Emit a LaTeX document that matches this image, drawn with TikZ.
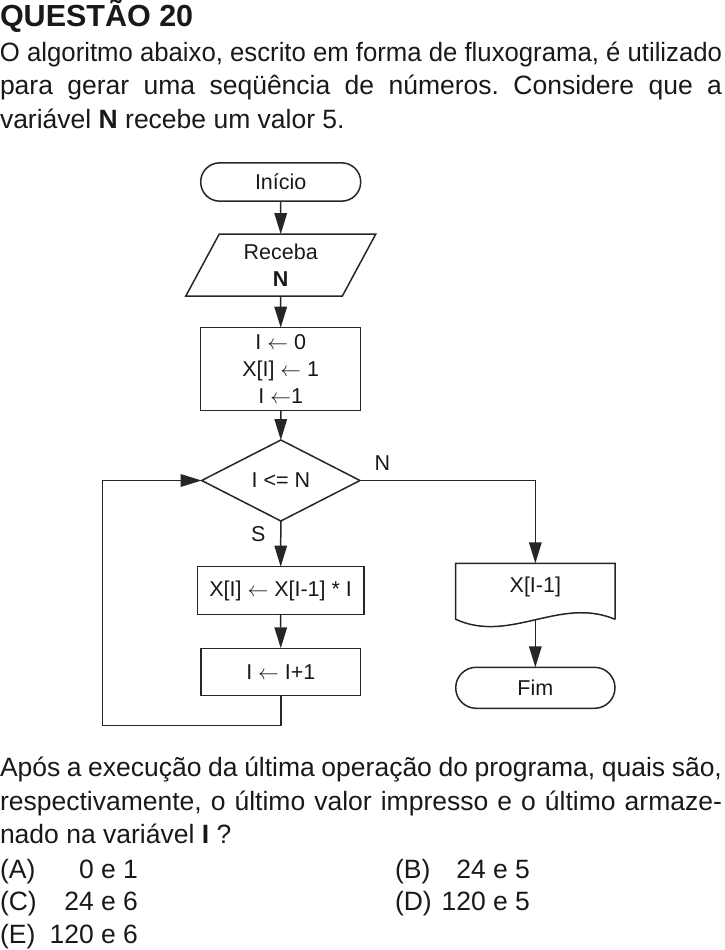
\documentclass[tikz,border=0pt]{standalone}
\usepackage{graphicx}
\usepackage{fontspec}
\setmainfont{Liberation Sans}
\usetikzlibrary{arrows.meta, shapes.geometric}
\frenchspacing

\begin{document}
\begin{tikzpicture}[x=1pt, y=-1pt,
        every node/.style={inner sep=0pt, outer sep=0pt, text=black!90},
        txt/.style={anchor=base west, font=\fontsize{26.5}{33.6}\selectfont},
        proc/.style={draw=black!85, line width=1.5pt, align=center, font=\fontsize{21.5}{27}\selectfont},
        lbl/.style={font=\fontsize{21.5}{27}\selectfont},
        flow/.style={draw=black!85, line width=1.5pt, -{Triangle[length=21pt, width=12.5pt]}}]
        \useasboundingbox (0,0) rectangle (725,950);

        % enunciado
        \node[txt, font=\bfseries\fontsize{30.5}{36}\selectfont] at (0,26.7) (titulo) {QUESTÃO 20};
        \node[txt] at (0,61) (l1) {\resizebox{722pt}{\height}{O algoritmo abaixo, escrito em forma de fluxograma, é utilizado}};
        \node[txt] at (0,94.6) (l2) {\makebox[722pt][s]{para gerar uma seqüência de números. Considere que a}};
        \node[txt] at (0,128.3) (l3) {variável \textbf{N} recebe um valor 5.};

        % fluxograma
        \node[proc, rounded corners=19pt, minimum width=160pt, minimum height=38.3pt] at (280.7,182) (inicio) {Início};
        \node[proc, trapezium, trapezium left angle=64.7, trapezium right angle=115.3, trapezium stretches=true,
              minimum width=190pt, minimum height=62pt] at (280.7,265.2) (receba) {Receba\\\textbf{N}};
        \node[proc, minimum width=160pt, minimum height=83pt] at (280.7,369.2) (init) {I $\leftarrow$ 0\\X[I] $\leftarrow$ 1\\I $\leftarrow$1};
        \node[proc, diamond, minimum width=158.3pt, minimum height=81pt] at (280.85,480.5) (cond) {I <= N};
        \node[proc, minimum width=166.7pt, minimum height=47.6pt] at (280.65,590.5) (calc) {X[I] $\leftarrow$ X[I-1] * I};
        \node[proc, minimum width=159.7pt, minimum height=47.4pt] at (280.85,672) (inc) {I $\leftarrow$ I+1};
        \node[lbl, minimum width=159.3pt, minimum height=46.8pt] at (535.35,586.7) (saida) {X[I-1]};
        \node[proc, rounded corners=20.5pt, minimum width=159.3pt, minimum height=41pt] at (535.35,687.8) (fim) {Fim};
        \node[lbl] at (382.3,463.3) (rotN) {N};
        \node[lbl] at (258.3,534) (rotS) {S};

        % documento impresso
        \draw[black!85, line width=1.5pt] (615,619.3) -- (615,563.3) -- (455.7,563.3) -- (455.7,619.3)
            .. controls (510,644) and (560,596) .. (615,619.3);
        \coordinate (wave) at (535.35,619.8);
        \coordinate (back) at (102.3,725.7);

        \draw[flow] (inicio) -- (receba);
        \draw[flow] (receba) -- (init);
        \draw[flow] (init) -- (cond);
        \draw[flow] (cond) -- (calc);
        \draw[flow] (calc) -- (inc);
        \draw[flow] (cond.east) -| (saida.north);
        \draw[flow] (wave) -- (fim);
        \draw[flow] (inc.south) |- (back) |- (cond.west);

        % pergunta
        \node[txt] at (0,776.7) (l4) {\makebox[722pt][s]{Após a execução da última operação do programa, quais são,}};
        \node[txt] at (0,810) (l5) {\makebox[722pt][s]{respectivamente, o último valor impresso e o último armaze-}};
        \node[txt] at (0,843.3) (l6) {nado na variável \textbf{I} ?};
        \node[txt] at (0,878.5) (optA) {(A)};
        \node[txt, anchor=base east] at (138,878.5) (valA) {0 e 1};
        \node[txt] at (395,878.5) (optB) {(B)};
        \node[txt, anchor=base east] at (530,878.5) (valB) {24 e 5};
        \node[txt] at (0,910.5) (optC) {(C)};
        \node[txt, anchor=base east] at (138,910.5) (valC) {24 e 6};
        \node[txt] at (395,910.5) (optD) {(D)};
        \node[txt, anchor=base east] at (530,910.5) (valD) {120 e 5};
        \node[txt] at (0,943) (optE) {(E)};
        \node[txt, anchor=base east] at (138,943) (valE) {120 e 6};
\end{tikzpicture}
\end{document}
